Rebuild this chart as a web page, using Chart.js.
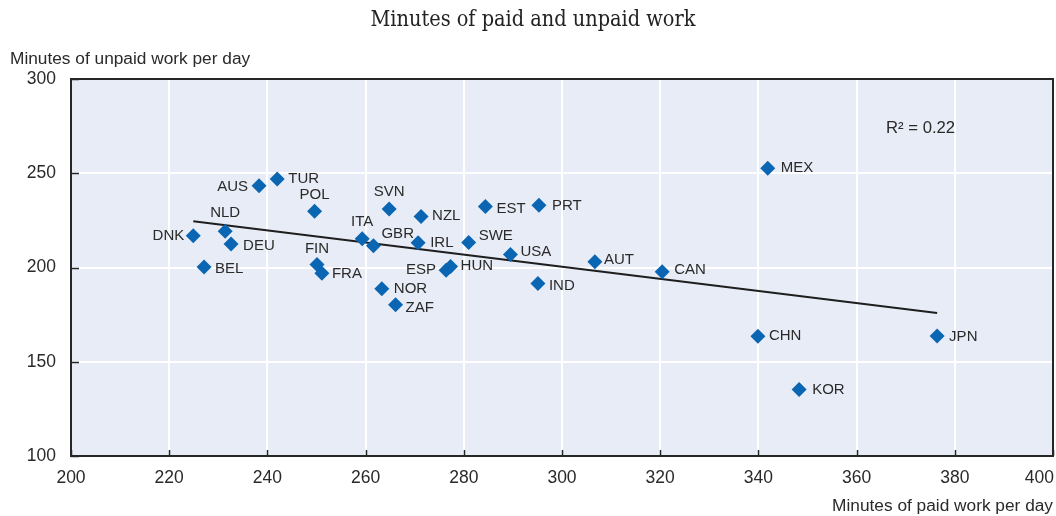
<!DOCTYPE html>
<html>
<head>
<meta charset="utf-8">
<script src="https://cdn.jsdelivr.net/npm/chart.js@4.4.1/dist/chart.umd.min.js"></script>
<style>
  html, body { margin: 0; padding: 0; background: #ffffff; }
  #wrap { width: 1056px; height: 516px; position: relative; }
</style>
</head>
<body>
<div id="wrap"><canvas id="c" width="1056" height="516"></canvas></div>
<script>
// ---- Data ----
const countries = ['DNK','BEL','NLD','DEU','AUS','TUR','POL','FIN','FRA','ITA','GBR','SVN','NOR','ZAF','IRL','NZL','ESP','HUN','SWE','EST','USA','PRT','IND','AUT','CAN','CHN','MEX','KOR','JPN'];
const paidMinutes = [224.9,227.1,231.4,232.6,238.3,242.0,249.6,250.1,251.1,259.3,261.6,264.8,263.3,266.1,270.7,271.3,276.4,277.3,281.0,284.4,289.5,295.3,295.1,306.7,320.4,339.9,341.9,348.3,376.4];
const unpaidMinutes = [216.8,200.2,219.2,212.5,243.4,246.9,229.8,201.6,197.0,215.3,211.5,231.1,188.7,180.3,213.1,227.1,198.6,200.5,213.2,232.4,206.9,233.0,191.5,203.0,197.7,163.5,252.7,135.3,163.7];
const trendPaid = [224.9, 376.4];
const trendUnpaid = [224.5, 175.8];
const xTicks = [200,220,240,260,280,300,320,340,360,380,400];
const yTicks = [100,150,200,250,300];
const rSquaredText = 'R\u00B2 = 0.22';
const subtitleText = 'Minutes of paid and unpaid work';
const yTitleText = 'Minutes of unpaid work per day';
const xTitleText = 'Minutes of paid work per day';

// ---- Label placement (style only) ----
const labelPlace = {
  DNK:{dx:-9,dy:0,a:'right'}, AUS:{dx:-11,dy:1,a:'right'}, ESP:{dx:-10,dy:0,a:'right'},
  NLD:{dx:0,dy:-18,a:'center'}, POL:{dx:0,dy:-16,a:'center'}, FIN:{dx:0,dy:-16,a:'center'},
  ITA:{dx:0,dy:-17,a:'center'}, SVN:{dx:0,dy:-17,a:'center'},
  GBR:{dx:8,dy:-12,a:'left'}, SWE:{dx:10,dy:-7,a:'left'}, USA:{dx:10,dy:-3,a:'left'},
  AUT:{dx:9,dy:-2,a:'left'}, CAN:{dx:12,dy:-2,a:'left'}, HUN:{dx:10,dy:-1,a:'left'},
  IND:{dx:11,dy:2,a:'left'}, BEL:{dx:11,dy:2,a:'left'}, DEU:{dx:12,dy:2,a:'left'},
  TUR:{dx:11,dy:0,a:'left'}, FRA:{dx:10,dy:1,a:'left'}, NZL:{dx:11,dy:-1,a:'left'},
  IRL:{dx:12,dy:0,a:'left'}, EST:{dx:11,dy:2,a:'left'}, PRT:{dx:13,dy:1,a:'left'},
  NOR:{dx:12,dy:0,a:'left'}, ZAF:{dx:10,dy:3,a:'left'}, MEX:{dx:13,dy:0,a:'left'},
  CHN:{dx:11,dy:0,a:'left'}, JPN:{dx:12,dy:1,a:'left'}, KOR:{dx:13,dy:0,a:'left'}
};

const SANS = '"Liberation Sans", Arial, sans-serif';
const SERIF = '"DejaVu Serif Condensed", "DejaVu Serif", serif';
const TEXT = '#2a2a2a';
const FRAME = '#262626';

const points = paidMinutes.map((x, i) => ({x: x, y: unpaidMinutes[i]}));
const trend = trendPaid.map((x, i) => ({x: x, y: trendUnpaid[i]}));

const decor = {
  id: 'decor',
  beforeDraw(chart) {
    const {ctx, chartArea: a} = chart;
    ctx.save();
    ctx.fillStyle = '#e8ecf6';
    ctx.fillRect(a.left, a.top, a.right - a.left, a.bottom - a.top);
    ctx.restore();
  },
  afterDatasetsDraw(chart) {
    const {ctx, chartArea: a, scales} = chart;
    const xs = scales.x, ys = scales.y;
    ctx.save();
    // frame
    ctx.strokeStyle = FRAME;
    ctx.lineWidth = 2;
    ctx.strokeRect(a.left, a.top, a.right - a.left, a.bottom - a.top);
    // inward ticks
    ctx.lineWidth = 1.5;
    xTicks.forEach(v => {
      const px = Math.round(xs.getPixelForValue(v)) + 0.5;
      ctx.beginPath(); ctx.moveTo(px, a.bottom); ctx.lineTo(px, a.bottom - 6); ctx.stroke();
    });
    yTicks.forEach(v => {
      const py = Math.round(ys.getPixelForValue(v)) + 0.5;
      ctx.beginPath(); ctx.moveTo(a.left, py); ctx.lineTo(a.left + 8, py); ctx.stroke();
    });
    // tick labels
    ctx.fillStyle = TEXT;
    ctx.font = '17.5px ' + SANS;
    ctx.textBaseline = 'middle';
    xTicks.forEach(v => {
      let px = xs.getPixelForValue(v);
      const w = ctx.measureText(String(v)).width;
      ctx.textAlign = 'center';
      if (px + w / 2 > chart.width - 2) { ctx.textAlign = 'right'; px = chart.width - 2; }
      ctx.fillText(String(v), px, a.bottom + 22);
    });
    ctx.textAlign = 'right';
    yTicks.forEach(v => {
      ctx.fillText(String(v), a.left - 15, ys.getPixelForValue(v));
    });
    // axis titles
    ctx.font = '17.3px ' + SANS;
    ctx.textAlign = 'left';
    ctx.fillText(yTitleText, 10, 59);
    ctx.textAlign = 'right';
    ctx.fillText(xTitleText, chart.width - 3, 506);
    // subtitle
    ctx.font = '21.5px ' + SERIF;
    ctx.textAlign = 'center';
    ctx.fillStyle = '#222';
    ctx.fillText(subtitleText, 533, 20);
    // R squared
    ctx.font = '16.7px ' + SANS;
    ctx.textAlign = 'left';
    ctx.fillStyle = TEXT;
    ctx.fillText(rSquaredText, 886, 128);
    // point labels
    ctx.font = '15px ' + SANS;
    countries.forEach((c, i) => {
      const p = labelPlace[c] || {dx: 11, dy: 0, a: 'left'};
      const px = xs.getPixelForValue(paidMinutes[i]);
      const py = ys.getPixelForValue(unpaidMinutes[i]);
      ctx.textAlign = p.a;
      ctx.fillText(c, px + p.dx, py + p.dy);
    });
    ctx.restore();
  }
};

new Chart(document.getElementById('c'), {
  type: 'scatter',
  data: {
    datasets: [
      { type: 'line', label: 'Trend', data: trend, borderColor: '#1e1e1e', borderWidth: 2, pointRadius: 0, fill: false, order: 2 },
      { label: 'Countries', data: points, pointStyle: 'rectRot', pointRadius: 7.5, pointHoverRadius: 7.5, backgroundColor: '#0a66b2', borderWidth: 0, order: 1 }
    ]
  },
  options: {
    responsive: false,
    animation: false,
    events: [],
    layout: { autoPadding: false, padding: { left: 71, right: 3, top: 79, bottom: 60 } },
    plugins: { legend: { display: false }, tooltip: { enabled: false }, title: { display: false } },
    scales: {
      x: {
        type: 'linear', min: 200, max: 400,
        afterBuildTicks(s) { s.ticks = xTicks.map(v => ({value: v})); },
        afterFit(s) { s.height = 0; s.paddingLeft = 0; s.paddingRight = 0; },
        ticks: { display: false },
        grid: { color: '#ffffff', lineWidth: 2, drawTicks: false },
        border: { display: false }
      },
      y: {
        type: 'linear', min: 100, max: 300,
        afterBuildTicks(s) { s.ticks = yTicks.map(v => ({value: v})); },
        afterFit(s) { s.width = 0; s.paddingTop = 0; s.paddingBottom = 0; },
        ticks: { display: false },
        grid: { color: '#ffffff', lineWidth: 2, drawTicks: false },
        border: { display: false }
      }
    }
  },
  plugins: [decor]
});
</script>
</body>
</html>
